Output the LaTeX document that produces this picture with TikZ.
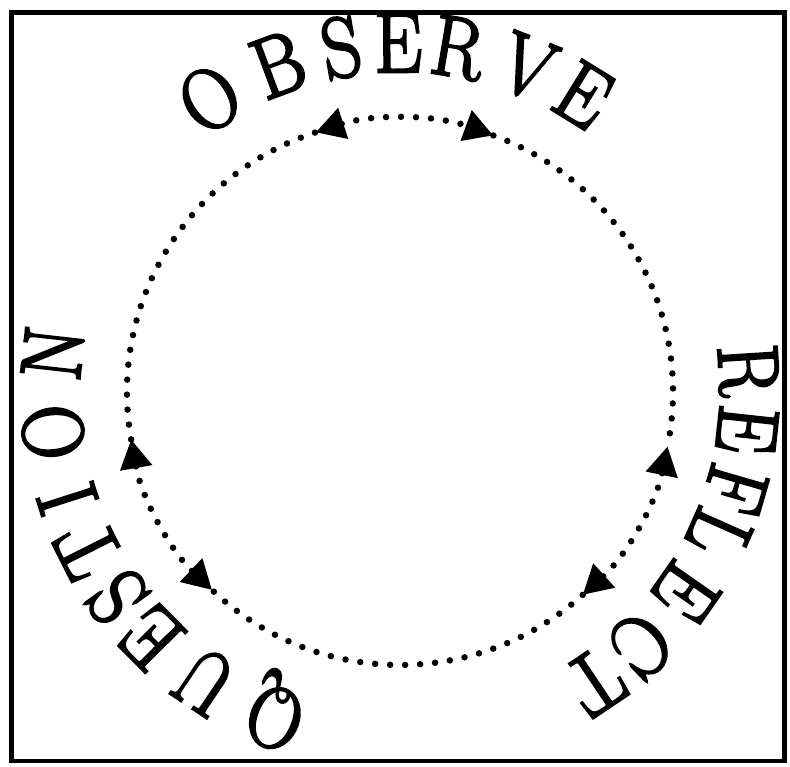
\documentclass[tikz,border=0pt]{standalone}
\usepackage{fontspec}
\newfontfamily\ringfont{Latin Modern Roman}[FakeBold=3]
\usetikzlibrary{arrows.meta}
\begin{document}
\begin{tikzpicture}[x=1pt,y=1pt,
  ring/.style={line width=6.5pt, line cap=round, dash pattern=on 0pt off 15pt, black},
  twoway/.style={ring, {Triangle[length=29pt,width=31pt]}-{Triangle[length=29pt,width=31pt]}},
  letter/.style={font=\ringfont\fontsize{86}{86}\selectfont, inner sep=0pt, anchor=base, xscale=0.88}
]
\useasboundingbox (-400,-375) rectangle (390,392);
\node[draw, line width=4.5pt, minimum width=773pt, minimum height=748.5pt, inner sep=0pt] (frame) at (-2,5.25) {};
% dotted ring with three double-headed arcs
\coordinate (c) at (0,0);
\draw[twoway] (108:273) arc[start angle=108, end angle=70, radius=273];
\draw[twoway] (-11.5:273) arc[start angle=-11.5, end angle=-48, radius=273];
\draw[twoway] (190:273) arc[start angle=190, end angle=226.5, radius=273];
\draw[ring] (70:273) arc[start angle=70, end angle=-11.5, radius=273];
\draw[ring] (-48:273) arc[start angle=-48, end angle=-133.5, radius=273];
\draw[ring] (190:273) arc[start angle=190, end angle=108, radius=273];
% letters
\foreach \a/\t/\n in {123/O/o1, 110.4/B/o2, 99.7/S/o3, 90.3/E/o4, 80.4/R/o5, 68.6/V/o6, 58.3/E/o7,
  3.6/R/r1, -6.2/E/r2, -16.2/F/r3, -24/L/r4, -34.9/E/r5, -46.4/C/r6, -56.1/T/r7,
  249/Q/q1, 236/U/q2, 224.8/E/q3, 215.9/S/q4, 206.8/T/q5, 197.8/I/q6, 186.6/O/q7, 173.6/N/q8}
  {\node[rotate=\a-90, letter] (\n) at (\a:320) {\t};}
\end{tikzpicture}
\end{document}
